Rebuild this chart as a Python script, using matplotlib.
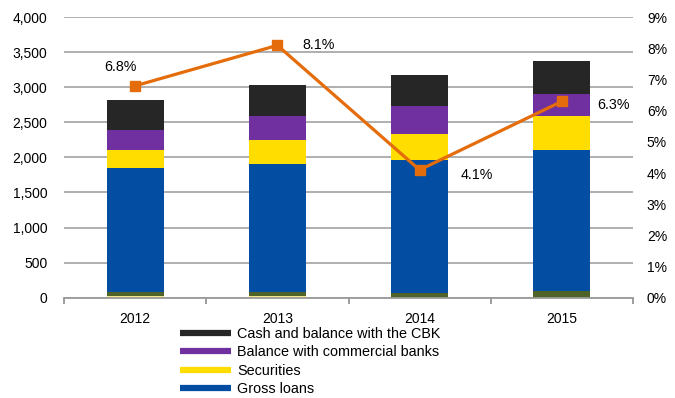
import numpy as np
import matplotlib.pyplot as plt
from matplotlib.lines import Line2D
from matplotlib.ticker import FuncFormatter, FixedLocator

plt.rcParams['font.family'] = ['Liberation Sans', 'DejaVu Sans']
plt.rcParams['font.size'] = 10

years = ['2012', '2013', '2014', '2015']
# KES bn, stacked bottom -> top
other_a = [25, 25, 0, 0]
other_b = [55, 55, 60, 95]
gross_loans = [1766, 1823, 1900, 2008]
securities = [257, 342, 370, 482]
bal_banks = [283, 340, 399, 315]
cash_cbk = [429, 455, 451, 480]
growth = [6.8, 8.1, 4.1, 6.3]
growth_labels = ['6.8%', '8.1%', '4.1%', '6.3%']

series = [
    (other_a, '#F2E58C', None),
    (other_b, '#4F6228', None),
    (gross_loans, '#034EA2', 'Gross loans'),
    (securities, '#FFDD00', 'Securities'),
    (bal_banks, '#7030A0', 'Balance with commercial banks'),
    (cash_cbk, '#262626', 'Cash and balance with the CBK'),
]

fig = plt.figure(figsize=(6.75, 3.98), dpi=100)
ax = fig.add_axes([0.0948, 0.2523, 0.843, 0.7042])
x = np.arange(len(years))

bottom = np.zeros(len(years))
for vals, col, lab in series:
    ax.bar(x, vals, 0.4, bottom=bottom, color=col, zorder=2)
    bottom += np.array(vals)

ax.set_xlim(-0.5, 3.5)
ax.set_ylim(0, 4000)
ax.set_yticks(np.arange(0, 4001, 500))
ax.yaxis.set_major_formatter(FuncFormatter(lambda v, p: f'{int(v):,}'))
ax.grid(axis='y', color='#9a9a9a', lw=1.1, zorder=0)
ax.set_axisbelow(True)
ax.set_xticks(x)
ax.set_xticklabels(years)
ax.xaxis.set_minor_locator(FixedLocator([-0.5, 0.5, 1.5, 2.5, 3.5]))
ax.tick_params(axis='x', which='major', length=0, pad=10.5)
ax.tick_params(axis='x', which='minor', length=4, color='#8c8c8c', width=1.2)
ax.tick_params(axis='y', length=0, pad=12)
for s in ['top', 'left', 'right']:
    ax.spines[s].set_visible(False)
ax.spines['bottom'].set_color('#9a9a9a')
ax.spines['bottom'].set_linewidth(1.3)

ax2 = ax.twinx()
ax2.set_ylim(0, 9)
ax2.set_yticks(range(10))
ax2.yaxis.set_major_formatter(FuncFormatter(lambda v, p: f'{int(v)}%'))
ax2.tick_params(axis='y', length=0, pad=10)
for s in ax2.spines.values():
    s.set_visible(False)
ax2.plot(x, growth, color='#E46C0A', lw=2.3, marker='s', ms=6.5, zorder=5)

offsets = [(-15, 19), (25, 0), (41, -5), (35, -4)]
for xi, v, t, (dx, dy) in zip(x, growth, growth_labels, offsets):
    ax2.annotate(t, (xi, v), xytext=(dx * 0.72, dy * 0.72), textcoords='offset points',
                 ha='center' if dx < 0 else 'left', va='center', fontsize=10.3)

handles = [Line2D([], [], color=c, lw=4.5, solid_capstyle='butt') for _, c, l in series if l][::-1]
labels = [l for _, c, l in series if l][::-1]
fig.legend(handles, labels, loc='upper left', bbox_to_anchor=(180 / 675, 1 - 327 / 398),
           frameon=False, borderpad=0, borderaxespad=0, handlelength=3.5,
           handletextpad=0.45, labelspacing=0.3, fontsize=10.4)

fig.savefig('out.png', dpi=100)
